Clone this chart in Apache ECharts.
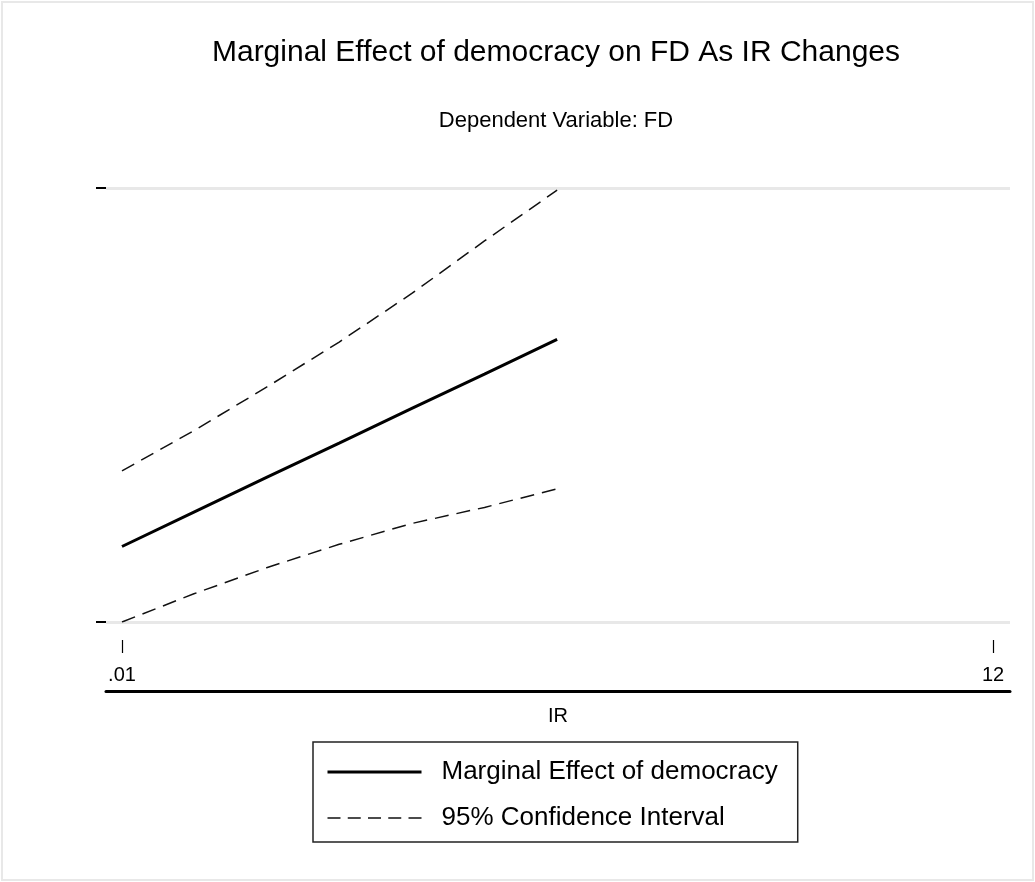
<!DOCTYPE html>
<html>
<head>
<meta charset="utf-8">
<script src="https://cdn.jsdelivr.net/npm/echarts@6/dist/echarts.min.js"></script>
<style>
	html, body { margin: 0; padding: 0; background: #fff; }
	#main { width: 1035px; height: 882px; }
</style>
</head>
<body>
<div id="main"></div>
<script>
// values (y axis has no labels, so units are relative)
var irValues = [0.01, 1, 2, 3, 4, 5, 6];
var marginalEffect = [0.174, 0.253, 0.333, 0.412, 0.492, 0.571, 0.651];
var upperCI = [0.348, 0.441, 0.541, 0.645, 0.757, 0.878, 0.995];
var lowerCI = [0.000, 0.065, 0.125, 0.179, 0.227, 0.264, 0.307];
var xTickValues = [0.01, 12];
var xTickLabels = ['.01', '12'];
var yTickValues = [0, 1];

var FONT = "'Liberation Sans', Arial, sans-serif";

function pairs(xs, ys) {
	var out = [];
	for (var i = 0; i < xs.length; i++) {
		out.push([xs[i], ys[i]]);
	}
	return out;
}

var dashed = {
	color : '#111',
	width : 1.5,
	type : [14, 8]
};

// legend keys: line only, no marker
var hiddenMarker = { color : 'rgba(0,0,0,0)', borderWidth : 0, opacity : 0 };

var myChart = echarts.init(document.getElementById('main'), null, { renderer : 'canvas' });

var option = {
	backgroundColor : '#fff',
	animation : false,
	textStyle : { fontFamily : FONT, color : '#000' },
	graphic : [ {
		type : 'rect',
		shape : { x : 2, y : 2, width : 1031, height : 878 },
		style : { fill : 'none', stroke : '#e8e8e8', lineWidth : 2 },
		silent : true
	} ],
	title : [ {
		text : 'Marginal Effect of democracy on FD As IR Changes',
		left : 556,
		top : 38,
		textAlign : 'center',
		padding : 0,
		textStyle : { fontFamily : FONT, fontSize : 30, fontWeight : 'normal', color : '#000' }
	}, {
		text : 'Dependent Variable: FD',
		left : 556,
		top : 110,
		textAlign : 'center',
		padding : 0,
		textStyle : { fontFamily : FONT, fontSize : 22, fontWeight : 'normal', color : '#000' }
	} ],
	legend : {
		orient : 'vertical',
		left : 313,
		top : 742,
		padding : [15, 20, 9, 13],
		itemWidth : 94,
		itemHeight : 14,
		itemGap : 16,
		borderColor : '#222',
		borderWidth : 1.5,
		borderRadius : 0,
		itemStyle : hiddenMarker,
		data : [ {
			name : 'Marginal Effect of democracy',
			itemStyle : hiddenMarker,
			lineStyle : { color : '#000', width : 3, type : 'solid' }
		}, {
			name : '95% Confidence Interval',
			itemStyle : hiddenMarker,
			lineStyle : { color : '#111', width : 1.5, type : [13, 7.25] }
		} ],
		textStyle : {
			fontFamily : FONT,
			fontSize : 26,
			color : '#000',
			lineHeight : 30,
			padding : [0, 0, 0, 15]
		}
	},
	grid : {
		left : 106,
		right : 25,
		top : 188,
		bottom : 260,
		containLabel : false
	},
	xAxis : [ {
		type : 'value',
		min : -0.21,
		max : 12.234,
		position : 'bottom',
		offset : 18,
		name : 'IR',
		nameLocation : 'middle',
		nameGap : 66,
		nameTextStyle : { fontFamily : FONT, fontSize : 20, color : '#000' },
		axisLine : { show : false, onZero : false },
		axisTick : {
			show : true,
			length : 13,
			customValues : xTickValues,
			lineStyle : { color : '#000', width : 1.2 }
		},
		axisLabel : {
			show : true,
			margin : 25,
			customValues : xTickValues,
			fontFamily : FONT,
			fontSize : 20,
			color : '#000',
			formatter : function(v) {
				var i = xTickValues.indexOf(v);
				return i > -1 ? xTickLabels[i] : '';
			}
		},
		splitLine : { show : false }
	}, {
		type : 'value',
		min : -0.21,
		max : 12.234,
		position : 'bottom',
		offset : 69,
		axisLine : { show : true, onZero : false, lineStyle : { color : '#000', width : 3 } },
		axisTick : { show : false },
		axisLabel : { show : false },
		splitLine : { show : false }
	} ],
	yAxis : {
		type : 'value',
		min : yTickValues[0],
		max : yTickValues[1],
		interval : 1,
		position : 'left',
		axisLine : { show : false, onZero : false },
		axisTick : { show : true, length : 10, lineStyle : { color : '#000', width : 2 } },
		axisLabel : { show : false },
		splitLine : { show : true, lineStyle : { color : '#e8e8e8', width : 3 } }
	},
	series : [ {
		name : 'Marginal Effect of democracy',
		type : 'line',
		symbol : 'none',
		xAxisIndex : 0,
		data : pairs(irValues, marginalEffect),
		lineStyle : { color : '#000', width : 3, type : 'solid' },
		itemStyle : { color : '#000' }
	}, {
		name : '95% Confidence Interval',
		type : 'line',
		symbol : 'none',
		xAxisIndex : 0,
		data : pairs(irValues, upperCI),
		lineStyle : dashed,
		itemStyle : { color : '#111' }
	}, {
		name : '95% Confidence Interval',
		type : 'line',
		symbol : 'none',
		xAxisIndex : 0,
		data : pairs(irValues, lowerCI),
		lineStyle : dashed,
		itemStyle : { color : '#111' }
	} ]
};

myChart.setOption(option);
</script>
</body>
</html>
